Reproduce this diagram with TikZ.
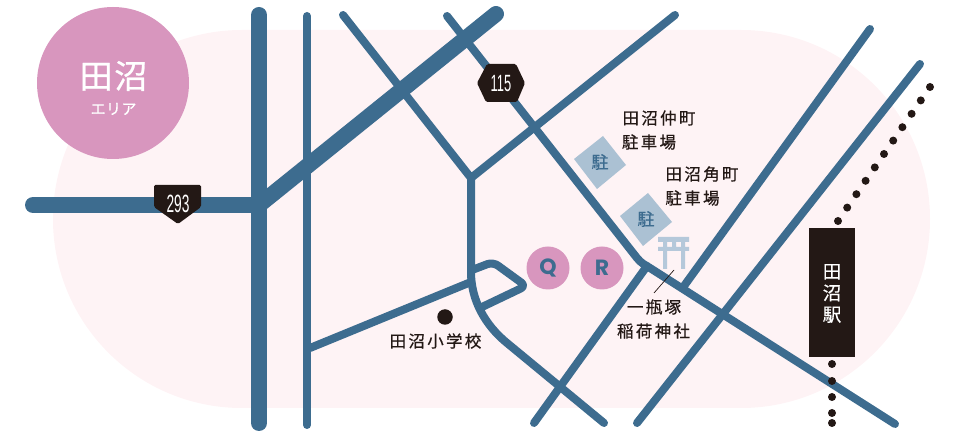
\documentclass[tikz,border=0pt]{standalone}
\usepackage{fontspec}
\usepackage{graphicx}
\setmainfont{Noto Sans CJK JP}
\newfontfamily\latinbold{Poppins}[BoldFont=Poppins Bold]
\newfontfamily\numfont{Liberation Sans}
\definecolor{roadc}{HTML}{3D6C8F}
\definecolor{bgpink}{HTML}{FEF3F5}
\definecolor{areapink}{HTML}{D896BE}
\definecolor{inkc}{HTML}{231815}
\definecolor{parkc}{HTML}{ABC1D3}
\definecolor{toriic}{HTML}{B5C8DA}
\tikzset{
  road/.style={draw=roadc,line width=8pt,line cap=round,line join=round},
  thickroad/.style={road,line width=16pt},
  lbl/.style={text=inkc,inner sep=0pt,anchor=center,font=\fontsize{16.5}{18}\selectfont\addfontfeature{LetterSpace=14,FakeBold=0.6}},
  dotc/.style={circle,fill=inkc,inner sep=0pt,minimum size=8pt},
  letterdisc/.style={circle,fill=areapink,inner sep=0pt,minimum size=43pt,text=roadc,font=\fontsize{22}{22}\selectfont\latinbold\bfseries},
  parkmark/.style={fill=parkc},
  parktext/.style={text=roadc,inner sep=0pt,font=\fontsize{17}{17}\selectfont\addfontfeature{FakeBold=0.7}},
  badge/.style={fill=inkc,rounded corners=1.5pt},
  badgetext/.style={text=white,inner sep=0pt,font=\fontsize{25}{25}\numfont},
}
\begin{document}
\begin{tikzpicture}[x=1pt,y=-1pt]
\useasboundingbox (0,0) rectangle (954,435);
% background
\fill[bgpink,rounded corners=188.9pt] (53,30) rectangle (930,408);
% area disc
\node[circle,fill=areapink,minimum size=152pt,inner sep=0pt] (area) at (113,83) {};
\node[text=white,inner sep=0pt,font=\fontsize{33}{33}\selectfont\addfontfeature{LetterSpace=5,FakeBold=0.8}] (areaname) at (113.5,76) {田沼};
\node[text=white,inner sep=0pt,font=\fontsize{15}{15}\selectfont\addfontfeature{LetterSpace=3,FakeBold=0.5}] (areasub) at (113.5,109) {エリア};
% roads
\coordinate (A) at (259,205);
\coordinate (J1) at (471,178);
\coordinate (J2) at (647,266);
\coordinate (C1) at (559,388);
\draw[thickroad] (259,15) -- (259,423);
\draw[thickroad] (33,205) -- (A);
\draw[thickroad] (A) -- (496,14);
\draw[road] (307,16) -- (307,425);
\draw[road] (343,15) -- (J1) -- (675,15);
\draw[road] (J1) -- (471,272) .. controls (471,300) and (485,325) .. (507,343) -- (604,423);
\draw[road] (447,16) -- (637,258) .. controls (641,263) and (645,265) .. (650,268) -- (895,424);
\draw[road] (J2) -- (534,423);
\draw[road] (870,29) -- (684,286);
\draw[road] (920,64) -- (637,423);
\draw[road] (310,348) -- (471,282);
\draw[road,rounded corners=6pt] (472,270) -- (493,262) -- (526,286) -- (482,307);
% railway
\foreach \i in {0,...,10} \node[dotc] (rail\i) at ({930-9.2*\i},{87+13.4*\i}) {};
\foreach \i/\y in {0/364,1/381,2/397,3/413,4/423} \node[dotc] (railb\i) at (832,\y) {};
% station
\node[fill=inkc,minimum width=46pt,minimum height=129pt,inner sep=0pt] (station) at (832,292.5) {};
\node[text=white,inner sep=0pt,align=center,font=\fontsize{18.5}{21.5}\selectfont\addfontfeature{FakeBold=0.4}] (stname) at (832,293.5) {田\\沼\\駅};
% shields
\path[badge,fill] (154,185) -- (201,185) -- (201,207) -- (178,224) -- (154,207) -- cycle;
\node[badgetext] (r293) at (178,204) {\scalebox{0.55}[1]{293}};
\path[badge,fill] (487,64) -- (516,64) -- (525,83) -- (517,102) -- (486,102) -- (477,83) -- cycle;
\node[badgetext,font=\fontsize{23.5}{24}\numfont] (r115) at (501,83.5) {\scalebox{0.55}[1]{115}};
% discs
\node[letterdisc] (Q) at (548,268) {Q};
\node[letterdisc] (R) at (602,268) {R};
% parking
\fill[parkmark] (603,136) -- (626,165) -- (597,189) -- (574,159) -- cycle;
\node[parktext] (p1) at (600,162) {駐};
\fill[parkmark] (648,193) -- (672,222) -- (643,246) -- (620,216) -- cycle;
\node[parktext] (p2) at (646,219) {駐};
% torii
\fill[toriic] (658,237) rectangle (689,242) (658,247) rectangle (689,251)
  (663,242) rectangle (667,269) (681,242) rectangle (685,269) (672,242) rectangle (676,247);
% school
\node[dotc,minimum size=15.5pt] (school) at (445,317) {};
\coordinate (lead1) at (674,270);
\coordinate (lead2) at (654,293);
\draw[inkc,line width=0.7pt] (lead1) -- (lead2);
% labels
\node[lbl] (t1) at (435.5,341) {田沼小学校};
\node[lbl] (t2) at (659,118) {田沼仲町};
\node[lbl] (t3) at (649,142) {駐車場};
\node[lbl] (t4) at (702,174) {田沼角町};
\node[lbl] (t5) at (692.5,198) {駐車場};
\node[lbl] (t6) at (654,307) {一瓶塚};
\node[lbl] (t7) at (653.5,331) {稲荷神社};
\end{tikzpicture}
\end{document}
